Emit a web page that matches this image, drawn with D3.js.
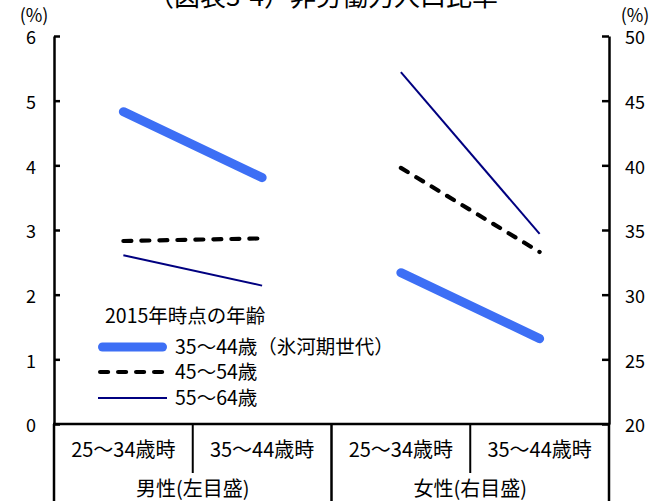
<!DOCTYPE html>
<html>
<head>
<meta charset="utf-8">
<script src="https://cdn.jsdelivr.net/npm/d3@7"></script>
<style>
  body { margin: 0; background: #fff; }
  text { font-family: "Noto Sans CJK JP", "Noto Sans", sans-serif; fill: #000; }
</style>
</head>
<body>
<svg id="chart" width="660" height="501"></svg>
<script>
// ---- data ----
const title = "（図表3-4）非労働力人口比率";
const groups = ["男性(左目盛)", "女性(右目盛)"];
const periods = ["25～34歳時", "35～44歳時"];
const legendTitle = "2015年時点の年齢";
const seriesNames = ["35～44歳（氷河期世代）", "45～54歳", "55～64歳"];
// 男性 (%), left axis
const maleGlacier = [4.83, 3.81];
const male4554 = [2.83, 2.87];
const male5564 = [2.61, 2.14];
// 女性 (%), right axis
const femaleGlacier = [31.7, 26.6];
const female4554 = [39.8, 33.3];
const female5564 = [47.2, 34.7];
const leftTicks = [0, 1, 2, 3, 4, 5, 6];
const rightTicks = [20, 25, 30, 35, 40, 45, 50];

// ---- layout ----
const W = 660, H = 501;
const plot = { left: 54, right: 609, top: 36, bottom: 424 };

const svg = d3.select("#chart");
svg.append("rect").attr("width", W).attr("height", H).attr("fill", "#fff");

const keys = [];
groups.forEach((g, gi) => periods.forEach((p, pi) => keys.push(gi + "|" + pi)));

const x = d3.scaleBand().domain(keys).range([plot.left, plot.right]);
const cx = k => x(k) + x.bandwidth() / 2;
const yL = d3.scaleLinear().domain([0, 6]).range([plot.bottom, plot.top]);
const yR = d3.scaleLinear().domain([20, 50]).range([plot.bottom, plot.top]);

// line styles per series
const styles = [
  { color: "#3d6ff5", width: 9, dash: null, cap: "round" },
  { color: "#000", width: 4.2, dash: "8,10", cap: "round" },
  { color: "#000080", width: 2, dash: null, cap: "butt" }
];

// ---- title ----
svg.append("text")
  .attr("x", 323).attr("y", 6)
  .attr("text-anchor", "middle")
  .attr("font-size", 26)
  .text(title);

// unit labels
svg.append("text").attr("x", 34).attr("y", 15).attr("dy", "0.37em")
  .attr("text-anchor", "middle").attr("font-size", 18).text("(%)");
svg.append("text").attr("x", 635).attr("y", 15).attr("dy", "0.37em")
  .attr("text-anchor", "middle").attr("font-size", 18).text("(%)");

// ---- axes ----
const axL = svg.append("g").attr("transform", `translate(${plot.left},0)`)
  .call(d3.axisLeft(yL).tickValues(leftTicks).tickFormat(d3.format("d"))
    .tickSizeInner(-6).tickSizeOuter(0).tickPadding(18));
const axR = svg.append("g").attr("transform", `translate(${plot.right},0)`)
  .call(d3.axisRight(yR).tickValues(rightTicks).tickFormat(d3.format("d"))
    .tickSizeInner(-7).tickSizeOuter(0).tickPadding(16));
[axL, axR].forEach(ax => {
  ax.select(".domain").attr("stroke", "#000").attr("stroke-width", 2.5);
  ax.selectAll(".tick line").attr("stroke", "#000").attr("stroke-width", 2.5);
  ax.selectAll(".tick text")
    .attr("font-size", 18)
    .attr("font-family", "\"Noto Sans CJK JP\", sans-serif")
    .attr("dy", "0.44em");
});

// ---- category table under the plot ----
const table = svg.append("g").attr("stroke", "#000");
table.append("line")
  .attr("x1", plot.left - 1).attr("x2", plot.right + 1)
  .attr("y1", plot.bottom).attr("y2", plot.bottom)
  .attr("stroke-width", 2.5);
// group boundaries run to the bottom, period boundaries stop at the first row
keys.forEach((k, i) => {
  const xb = x(k);
  const isGroupEdge = i % periods.length === 0;
  table.append("line")
    .attr("x1", xb).attr("x2", xb)
    .attr("y1", plot.bottom).attr("y2", isGroupEdge ? H : 473)
    .attr("stroke-width", isGroupEdge ? 2.5 : 2);
});
table.append("line")
  .attr("x1", plot.right).attr("x2", plot.right)
  .attr("y1", plot.bottom).attr("y2", H)
  .attr("stroke-width", 2.5);

keys.forEach(k => {
  const pi = +k.split("|")[1];
  svg.append("text")
    .attr("x", cx(k)).attr("y", 450).attr("dy", "0.37em")
    .attr("text-anchor", "middle").attr("font-size", 20)
    .text(periods[pi]);
});
groups.forEach((g, gi) => {
  const k0 = gi + "|0", k1 = gi + "|" + (periods.length - 1);
  const mid = (x(k0) + x(k1) + x.bandwidth()) / 2;
  svg.append("text")
    .attr("x", mid).attr("y", 489).attr("dy", "0.37em")
    .attr("text-anchor", "middle").attr("font-size", 20)
    .text(g);
});

// ---- lines ----
const maleSeries = [maleGlacier, male4554, male5564];
const femaleSeries = [femaleGlacier, female4554, female5564];

function drawSeries(values, gi, yScale, st) {
  const pts = values.map((v, pi) => [cx(gi + "|" + pi), yScale(v)]);
  svg.append("path")
    .attr("d", d3.line()(pts))
    .attr("fill", "none")
    .attr("stroke", st.color)
    .attr("stroke-width", st.width)
    .attr("stroke-linecap", st.cap)
    .attr("stroke-dasharray", st.dash);
}
// draw in reverse so the thick blue line sits on top
[2, 1, 0].forEach(si => {
  drawSeries(maleSeries[si], 0, yL, styles[si]);
  drawSeries(femaleSeries[si], 1, yR, styles[si]);
});

// ---- legend ----
const lg = svg.append("g");
lg.append("text").attr("x", 105).attr("y", 316).attr("dy", "0.37em")
  .attr("font-size", 19.5).text(legendTitle);
const legendY = [347, 372, 398];
seriesNames.forEach((name, si) => {
  const st = styles[si];
  const pad = st.cap === "round" ? st.width / 2 : 0;
  lg.append("line")
    .attr("x1", 98 + pad).attr("x2", 167 - pad)
    .attr("y1", legendY[si]).attr("y2", legendY[si])
    .attr("stroke", st.color)
    .attr("stroke-width", st.width)
    .attr("stroke-linecap", st.cap)
    .attr("stroke-dasharray", st.dash);
  lg.append("text").attr("x", 175).attr("y", legendY[si]).attr("dy", "0.37em")
    .attr("font-size", 19.5).text(name);
});
</script>
</body>
</html>
